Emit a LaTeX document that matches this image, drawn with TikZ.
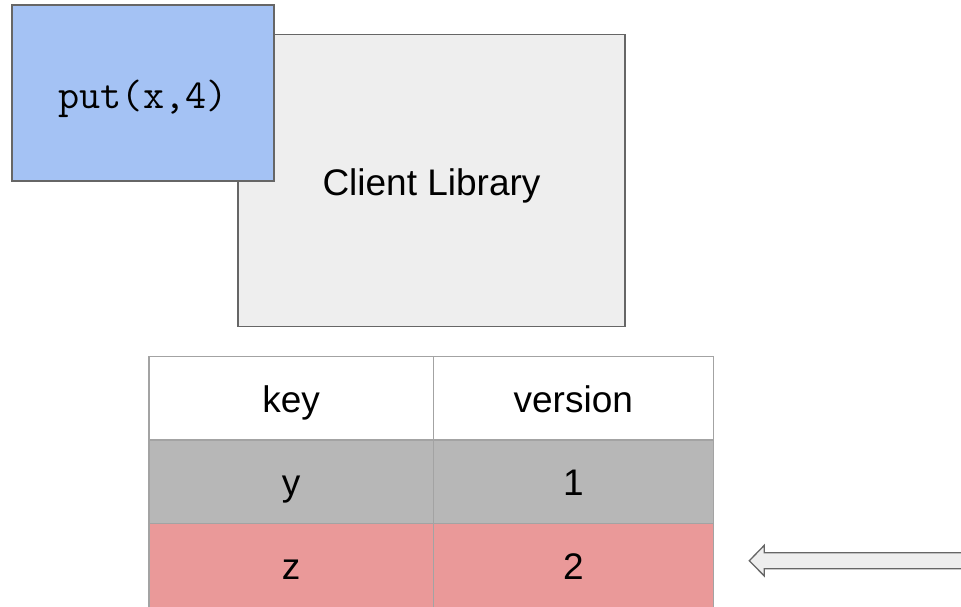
\documentclass[tikz,border=0pt]{standalone}
\usepackage{fontspec}
\setmainfont{Liberation Sans}
\definecolor{boxblue}{HTML}{A4C2F4}
\definecolor{boxlight}{HTML}{EEEEEE}
\definecolor{rowgray}{HTML}{B7B7B7}
\definecolor{rowred}{HTML}{EA9999}
\definecolor{edgedark}{HTML}{666666}
\definecolor{edgetable}{HTML}{A3A3A3}
\begin{document}
\begin{tikzpicture}[x=1pt,y=-1pt,
  bigfont/.style={font=\fontsize{37}{44}\selectfont},
  slidebox/.style={draw=edgedark, line width=1.4pt, inner sep=0pt, outer sep=0pt, text=black, bigfont},
  cell/.style={draw=edgetable, line width=1.3pt, inner sep=0pt, outer sep=0pt,
    minimum height=83.3pt, text height=27.4pt, text depth=0pt, text=black, bigfont},
  keycol/.style={cell, minimum width=284.3pt},
  vercol/.style={cell, minimum width=280pt},
  blockarrow/.style={draw=edgedark, fill=boxlight, line width=1.3pt, line join=miter}
]
\useasboundingbox (0,0) rectangle (961,606);
\clip (0,0) rectangle (961,606);
\fill[white] (0,0) rectangle (961,606);

% Client library box
\node[slidebox, fill=boxlight, minimum width=387pt, minimum height=292.4pt,
      text height=29pt, text depth=0pt] (client) at (431.5,180.5) {Client Library};

% put box
\node[slidebox, fill=boxblue, minimum width=262pt, minimum height=176pt,
      text height=30.6pt, text depth=0pt, font=\ttfamily\fontsize{41}{48}\selectfont] (put) at (143,93) {put(x,4)};

% table
\node[keycol, fill=white] (hkey) at (291.2,398.3) {key};
\node[vercol, fill=white] (hver) at (573.3,398.3) {version};
\node[keycol, fill=rowgray] (ykey) at (291.2,481.7) {y};
\node[vercol, fill=rowgray] (yver) at (573.3,481.7) {1};
\node[keycol, fill=rowred, minimum height=85pt] (zkey) at (291.2,565.85) {z};
\node[vercol, fill=rowred, minimum height=85pt] (zver) at (573.3,565.85) {2};

% block arrow pointing at row z
\coordinate (tip) at (749.3,560.7);
\draw[blockarrow] (tip) -- (764.3,545.3) -- (764.3,552.7) -- (970,552.7)
  -- (970,568.7) -- (764.3,568.7) -- (764.3,576) -- cycle;
\end{tikzpicture}
\end{document}
